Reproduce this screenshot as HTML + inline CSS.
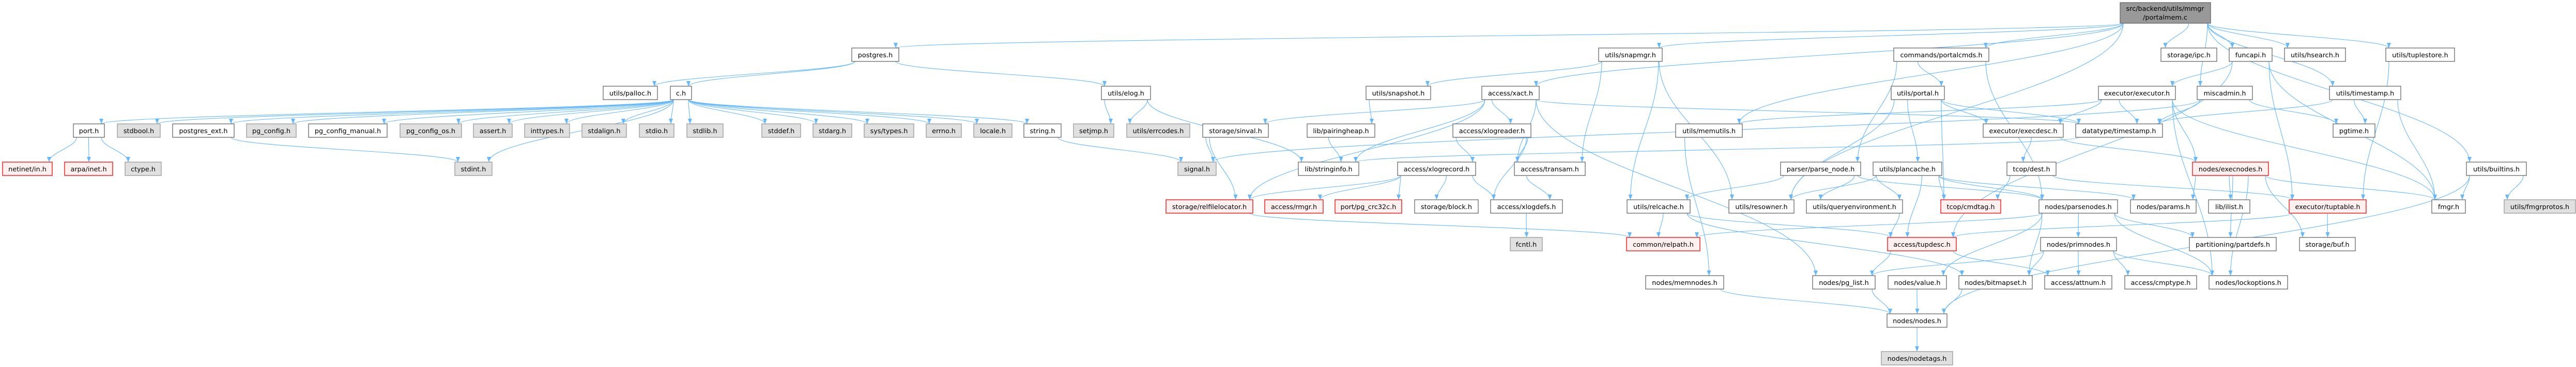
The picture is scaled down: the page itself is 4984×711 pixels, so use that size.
<!DOCTYPE html>
<html><head><meta charset="utf-8">
<style>
html,body{margin:0;padding:0;background:#fff;}
svg{display:block;}
text{font-family:"DejaVu Sans","Liberation Sans",sans-serif;font-size:12.8px;fill:#000;text-anchor:middle;}
.w rect{fill:#fff;stroke:#666;stroke-width:1.3;}
.g rect{fill:#e0e0e0;stroke:#999;stroke-width:1.3;}
.r rect{fill:#fff0f0;stroke:#f00;stroke-width:1.3;}
.t rect{fill:#999;stroke:#666;stroke-width:1.3;}
.e{fill:none;stroke:#63b8ff;stroke-width:1.1;}
</style></head>
<body>
<svg id="s" width="4984" height="711" viewBox="0 0 4984 711" xmlns="http://www.w3.org/2000/svg">
<defs><marker id="a" markerWidth="11" markerHeight="8" refX="10" refY="4" orient="auto" markerUnits="userSpaceOnUse"><path d="M0,0 L10,4 L0,8 z" fill="#63b8ff"/></marker></defs>
<g id="edges"></g>
<g id="nodes">
<g class="t" id="top"><rect x="4102" y="5" width="175" height="40"/><text x="4189" y="21">src/backend/utils/mmgr</text><text x="4189" y="38">/portalmem.c</text></g>
</g>
</svg>
<script>
var R=[5,93,167,240,314,387,460,534,608,681];
var N=[
["postgres.h",1648,1739,1,"w"],["utils/snapmgr.h",3093,3216,1,"w"],["commands/portalcmds.h",3664,3848,1,"w"],["storage/ipc.h",4181,4289,1,"w"],["funcapi.h",4313,4396,1,"w"],["utils/hsearch.h",4420,4538,1,"w"],["utils/tuplestore.h",4616,4749,1,"w"],
["utils/palloc.h",1167,1272,2,"w"],["c.h",1297,1338,2,"w"],["utils/elog.h",2131,2226,2,"w"],["utils/snapshot.h",2643,2768,2,"w"],["access/xact.h",2867,2978,2,"w"],["utils/portal.h",3659,3762,2,"w"],["executor/executor.h",4060,4209,2,"w"],["miscadmin.h",4251,4358,2,"w"],["utils/timestamp.h",4507,4645,2,"w"],
["port.h",142,202,3,"w"],["stdbool.h",227,310,3,"g"],["postgres_ext.h",334,453,3,"w"],["pg_config.h",477,573,3,"g"],["pg_config_manual.h",597,749,3,"w"],["pg_config_os.h",774,893,3,"g"],["assert.h",916,991,3,"g"],["inttypes.h",1015,1102,3,"g"],["stdalign.h",1126,1212,3,"g"],["stdio.h",1237,1304,3,"g"],["stdlib.h",1329,1399,3,"g"],["stddef.h",1474,1549,3,"g"],["stdarg.h",1573,1648,3,"g"],["sys/types.h",1672,1768,3,"g"],["errno.h",1792,1860,3,"g"],["locale.h",1884,1958,3,"g"],["string.h",1981,2053,3,"w"],["setjmp.h",2077,2155,3,"g"],["utils/errcodes.h",2180,2302,3,"g"],["storage/sinval.h",2327,2454,3,"w"],["lib/pairingheap.h",2529,2660,3,"w"],["access/xlogreader.h",2811,2962,3,"w"],["utils/memutils.h",3242,3371,3,"w"],["executor/execdesc.h",3837,3992,3,"w"],["datatype/timestamp.h",4016,4184,3,"w"],["pgtime.h",4514,4595,3,"w"],
["netinet/in.h",5,101,4,"r"],["arpa/inet.h",125,218,4,"r"],["ctype.h",242,312,4,"g"],["stdint.h",880,952,4,"g"],["signal.h",2279,2353,4,"g"],["lib/stringinfo.h",2512,2629,4,"w"],["access/xlogrecord.h",2704,2855,4,"w"],["access/transam.h",2930,3067,4,"w"],["parser/parse_node.h",3445,3600,4,"w"],["utils/plancache.h",3624,3757,4,"w"],["tcop/dest.h",3883,3978,4,"w"],["nodes/execnodes.h",4242,4389,4,"r"],["utils/builtins.h",4772,4888,4,"w"],
["storage/relfilelocator.h",2256,2424,5,"r"],["access/rmgr.h",2447,2560,5,"r"],["port/pg_crc32c.h",2583,2712,5,"r"],["storage/block.h",2737,2860,5,"w"],["access/xlogdefs.h",2884,3023,5,"w"],["utils/relcache.h",3148,3270,5,"w"],["utils/resowner.h",3345,3471,5,"w"],["utils/queryenvironment.h",3495,3681,5,"w"],["tcop/cmdtag.h",3755,3871,5,"r"],["nodes/parsenodes.h",3945,4097,5,"w"],["nodes/params.h",4122,4249,5,"w"],["lib/ilist.h",4273,4353,5,"w"],["executor/tuptable.h",4429,4578,5,"r"],["fmgr.h",4705,4770,5,"w"],["utils/fmgrprotos.h",4845,4983,5,"g"],
["fcntl.h",2922,2984,6,"g"],["common/relpath.h",3147,3289,6,"r"],["access/tupdesc.h",3652,3785,6,"r"],["nodes/primnodes.h",3948,4095,6,"w"],["partitioning/partdefs.h",4236,4404,6,"w"],["storage/buf.h",4449,4557,6,"w"],
["nodes/memnodes.h",3184,3335,7,"w"],["nodes/pg_list.h",3507,3628,7,"w"],["nodes/value.h",3653,3766,7,"w"],["nodes/bitmapset.h",3790,3932,7,"w"],["access/attnum.h",3956,4086,7,"w"],["access/cmptype.h",4111,4250,7,"w"],["nodes/lockoptions.h",4274,4426,7,"w"],
["nodes/nodes.h",3651,3767,8,"w"],["nodes/nodetags.h",3640,3778,9,"g"]
];
var NS="http://www.w3.org/2000/svg",M={top:[4102,4277,0,45]};
var ng=document.getElementById("nodes");
N.forEach(function(n){var y=R[n[3]];M[n[0]]=[n[1],n[2],y,y+26];
var g=document.createElementNS(NS,"g");g.setAttribute("class",n[4]);
var r=document.createElementNS(NS,"rect");r.setAttribute("x",n[1]);r.setAttribute("y",y);r.setAttribute("width",n[2]-n[1]);r.setAttribute("height",26);
var t=document.createElementNS(NS,"text");t.setAttribute("x",(n[1]+n[2])/2);t.setAttribute("y",y+18);t.textContent=n[0];
g.appendChild(r);g.appendChild(t);ng.appendChild(g);});
var E=[
["top","postgres.h"],["top","access/xact.h"],["top","commands/portalcmds.h"],["top","storage/ipc.h"],["top","funcapi.h"],["top","utils/hsearch.h"],["top","utils/tuplestore.h"],["top","utils/builtins.h"],["top","utils/timestamp.h"],["top","miscadmin.h"],["top","utils/memutils.h"],["top","utils/snapmgr.h"],["top","utils/resowner.h"],
["postgres.h","utils/palloc.h"],["postgres.h","c.h"],["postgres.h","utils/elog.h"],
["c.h","port.h"],["c.h","stdbool.h"],["c.h","postgres_ext.h"],["c.h","pg_config.h"],["c.h","pg_config_manual.h"],["c.h","pg_config_os.h"],["c.h","assert.h"],["c.h","inttypes.h"],["c.h","stdalign.h"],["c.h","stdio.h"],["c.h","stdlib.h"],["c.h","stddef.h"],["c.h","stdarg.h"],["c.h","sys/types.h"],["c.h","errno.h"],["c.h","locale.h"],["c.h","string.h"],["c.h","stdint.h"],
["port.h","netinet/in.h"],["port.h","arpa/inet.h"],["port.h","ctype.h"],["postgres_ext.h","stdint.h"],["string.h","signal.h"],
["utils/elog.h","setjmp.h"],["utils/elog.h","utils/errcodes.h"],["utils/elog.h","lib/stringinfo.h"],
["storage/sinval.h","signal.h"],["storage/sinval.h","storage/relfilelocator.h"],["storage/relfilelocator.h","common/relpath.h"],
["access/xact.h","storage/sinval.h"],["access/xact.h","lib/stringinfo.h"],["access/xact.h","access/xlogreader.h"],["access/xact.h","access/transam.h"],["access/xact.h","storage/relfilelocator.h"],["access/xact.h","nodes/pg_list.h"],["access/xact.h","datatype/timestamp.h"],
["utils/snapmgr.h","utils/snapshot.h"],["utils/snapmgr.h","access/transam.h"],["utils/snapmgr.h","utils/relcache.h"],["utils/snapmgr.h","utils/resowner.h"],
["utils/snapshot.h","lib/pairingheap.h"],["lib/pairingheap.h","lib/stringinfo.h"],
["access/xlogreader.h","access/xlogrecord.h"],["access/xlogreader.h","access/transam.h"],["access/xlogreader.h","access/xlogdefs.h"],
["access/xlogrecord.h","access/rmgr.h"],["access/xlogrecord.h","port/pg_crc32c.h"],["access/xlogrecord.h","storage/block.h"],["access/xlogrecord.h","access/xlogdefs.h"],["access/xlogrecord.h","storage/relfilelocator.h"],
["access/transam.h","access/xlogdefs.h"],["access/xlogdefs.h","fcntl.h"],
["utils/relcache.h","common/relpath.h"],["utils/relcache.h","access/tupdesc.h"],["utils/relcache.h","nodes/bitmapset.h"],
["utils/memutils.h","nodes/memnodes.h"],["nodes/memnodes.h","nodes/nodes.h"],
["commands/portalcmds.h","utils/portal.h"],["commands/portalcmds.h","parser/parse_node.h"],["commands/portalcmds.h","nodes/parsenodes.h"],
["utils/portal.h","executor/execdesc.h"],["utils/portal.h","datatype/timestamp.h"],["utils/portal.h","utils/plancache.h"],["utils/portal.h","tcop/cmdtag.h"],["utils/portal.h","utils/resowner.h"],
["executor/executor.h","utils/memutils.h"],["executor/executor.h","executor/execdesc.h"],["executor/executor.h","datatype/timestamp.h"],["executor/executor.h","fmgr.h"],["executor/executor.h","nodes/lockoptions.h"],["executor/executor.h","nodes/execnodes.h"],
["executor/execdesc.h","tcop/dest.h"],["executor/execdesc.h","nodes/execnodes.h"],
["tcop/dest.h","tcop/cmdtag.h"],["tcop/dest.h","executor/tuptable.h"],
["parser/parse_node.h","nodes/parsenodes.h"],["parser/parse_node.h","utils/queryenvironment.h"],["parser/parse_node.h","utils/relcache.h"],
["utils/plancache.h","utils/resowner.h"],["utils/plancache.h","utils/queryenvironment.h"],["utils/plancache.h","tcop/cmdtag.h"],["utils/plancache.h","access/tupdesc.h"],["utils/plancache.h","nodes/params.h"],["utils/plancache.h","nodes/parsenodes.h"],
["utils/queryenvironment.h","access/tupdesc.h"],
["nodes/parsenodes.h","nodes/primnodes.h"],["nodes/parsenodes.h","nodes/bitmapset.h"],["nodes/parsenodes.h","nodes/value.h"],["nodes/parsenodes.h","partitioning/partdefs.h"],["nodes/parsenodes.h","nodes/lockoptions.h"],["nodes/parsenodes.h","common/relpath.h"],
["nodes/primnodes.h","access/attnum.h"],["nodes/primnodes.h","access/cmptype.h"],["nodes/primnodes.h","nodes/bitmapset.h"],["nodes/primnodes.h","nodes/pg_list.h"],["nodes/primnodes.h","nodes/lockoptions.h"],
["access/tupdesc.h","nodes/pg_list.h"],["access/tupdesc.h","access/attnum.h"],
["nodes/pg_list.h","nodes/nodes.h"],["nodes/value.h","nodes/nodes.h"],["nodes/bitmapset.h","nodes/nodes.h"],["nodes/nodes.h","nodes/nodetags.h"],
["funcapi.h","executor/executor.h"],["funcapi.h","executor/tuptable.h"],["funcapi.h","fmgr.h"],["funcapi.h","access/tupdesc.h"],
["miscadmin.h","pgtime.h"],["miscadmin.h","datatype/timestamp.h"],["miscadmin.h","signal.h"],
["utils/timestamp.h","datatype/timestamp.h"],["utils/timestamp.h","pgtime.h"],["utils/timestamp.h","fmgr.h"],
["utils/tuplestore.h","executor/tuptable.h"],
["nodes/execnodes.h","nodes/params.h"],["nodes/execnodes.h","lib/ilist.h"],["nodes/execnodes.h","partitioning/partdefs.h"],["nodes/execnodes.h","storage/buf.h"],["nodes/execnodes.h","fmgr.h"],["nodes/execnodes.h","nodes/lockoptions.h"],
["executor/tuptable.h","storage/buf.h"],["executor/tuptable.h","access/tupdesc.h"],
["utils/builtins.h","fmgr.h"],["utils/builtins.h","utils/fmgrprotos.h"],["utils/builtins.h","nodes/nodes.h"],
["datatype/timestamp.h","lib/stringinfo.h"]
];
function cl(v,a,b){return Math.max(a,Math.min(b,v));}
var eg=document.getElementById("edges");
E.forEach(function(e){var s=M[e[0]],t=M[e[1]];if(!s||!t)return;
var sc=(s[0]+s[1])/2,tc=(t[0]+t[1])/2;
var sx=cl(tc,s[0]+6,s[1]-6),sy=s[3];
var tx=cl(sc,t[0]+6,t[1]-6),ty=t[2];
var d;
if(ty<=sy){var sy2=(s[2]+s[3])/2;sx=tc<sc?s[0]:s[1];tx=sc<tc?t[0]:t[1];ty=(t[2]+t[3])/2;d="M"+sx+","+sy2+" L"+tx+","+ty;}
else{var dy=ty-sy;d="M"+sx+","+sy+" C"+sx+","+(sy+dy*0.4)+" "+tx+","+(ty-dy*0.4)+" "+tx+","+ty;}
var p=document.createElementNS(NS,"path");p.setAttribute("d",d);p.setAttribute("class","e");p.setAttribute("marker-end","url(#a)");eg.appendChild(p);});
</script>
</body></html>
